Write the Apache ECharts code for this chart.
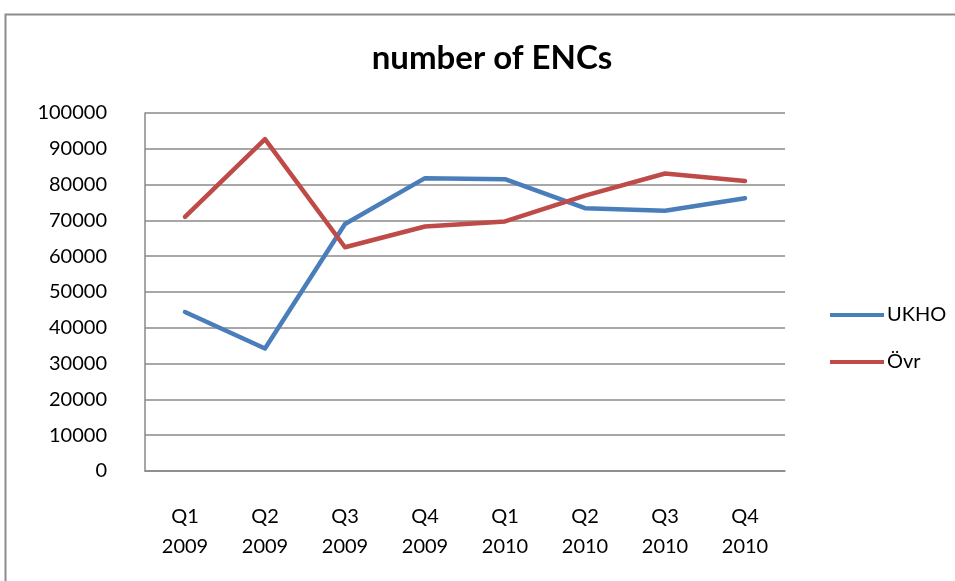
<!DOCTYPE html>
<html>
<head>
<meta charset="utf-8">
<script src="https://cdn.jsdelivr.net/npm/echarts@6/dist/echarts.min.js"></script>
<style>
html,body{margin:0;padding:0;background:#fff;}
#chart{width:955px;height:581px;}
</style>
</head>
<body>
<div id="chart"></div>
<script>
const categories = ["Q1\n2009","Q2\n2009","Q3\n2009","Q4\n2009","Q1\n2010","Q2\n2010","Q3\n2010","Q4\n2010"];
const ukho = [44400, 34200, 69000, 81800, 81500, 73400, 72700, 76200];
const ovr = [71000, 92700, 62500, 68300, 69700, 76900, 83100, 81000];
const seriesNames = ["UKHO", "Övr"];
const yTicks = {min: 0, max: 100000, interval: 10000};

const chart = echarts.init(document.getElementById('chart'));
const font = 'Lato, "Open Sans", sans-serif';
chart.setOption({
  animation: false,
  backgroundColor: '#fff',
  title: {
    text: 'number of ENCs',
    left: 487, top: 37, textAlign: 'center',
    textStyle: {fontFamily: font, fontSize: 33, fontWeight: 'bold', color: '#000'}
  },
  graphic: [{
    type: 'rect', shape: {x: 5.5, y: 14.5, width: 1000, height: 700},
    style: {fill: 'none', stroke: '#8c8c8c', lineWidth: 2}, silent: true
  }],
  legend: {
    orient: 'vertical', left: 825, top: 300, itemGap: 27,
    itemWidth: 54, itemHeight: 4, icon: 'rect',
    data: seriesNames,
    textStyle: {fontFamily: font, fontSize: 20, color: '#000', padding: [0,0,0,-2]}
  },
  grid: {left: 145, top: 113, right: 170, bottom: 110, containLabel: false},
  xAxis: {
    type: 'category', data: categories, boundaryGap: true,
    axisLine: {lineStyle: {color: '#888', width: 1.5}},
    axisTick: {show: false},
    axisLabel: {fontFamily: font, fontSize: 20, color: '#000', lineHeight: 30, margin: 31}
  },
  yAxis: {
    type: 'value', min: yTicks.min, max: yTicks.max, interval: yTicks.interval,
    axisLine: {show: true, lineStyle: {color: '#888', width: 1.5}},
    axisTick: {show: false},
    splitLine: {lineStyle: {color: '#8a8a8a', width: 1.6}},
    axisLabel: {fontFamily: font, fontSize: 20, color: '#000', margin: 38,
      formatter: function (v) { return String(v); }}
  },
  series: [
    {name: seriesNames[0], type: 'line', data: ukho, symbol: 'none',
     lineStyle: {color: '#4A7EBB', width: 4.5, cap: 'round', join: 'round'}, itemStyle: {color: '#4A7EBB'}},
    {name: seriesNames[1], type: 'line', data: ovr, symbol: 'none',
     lineStyle: {color: '#BE4B48', width: 4.5, cap: 'round', join: 'round'}, itemStyle: {color: '#BE4B48'}}
  ]
});
</script>
</body>
</html>
